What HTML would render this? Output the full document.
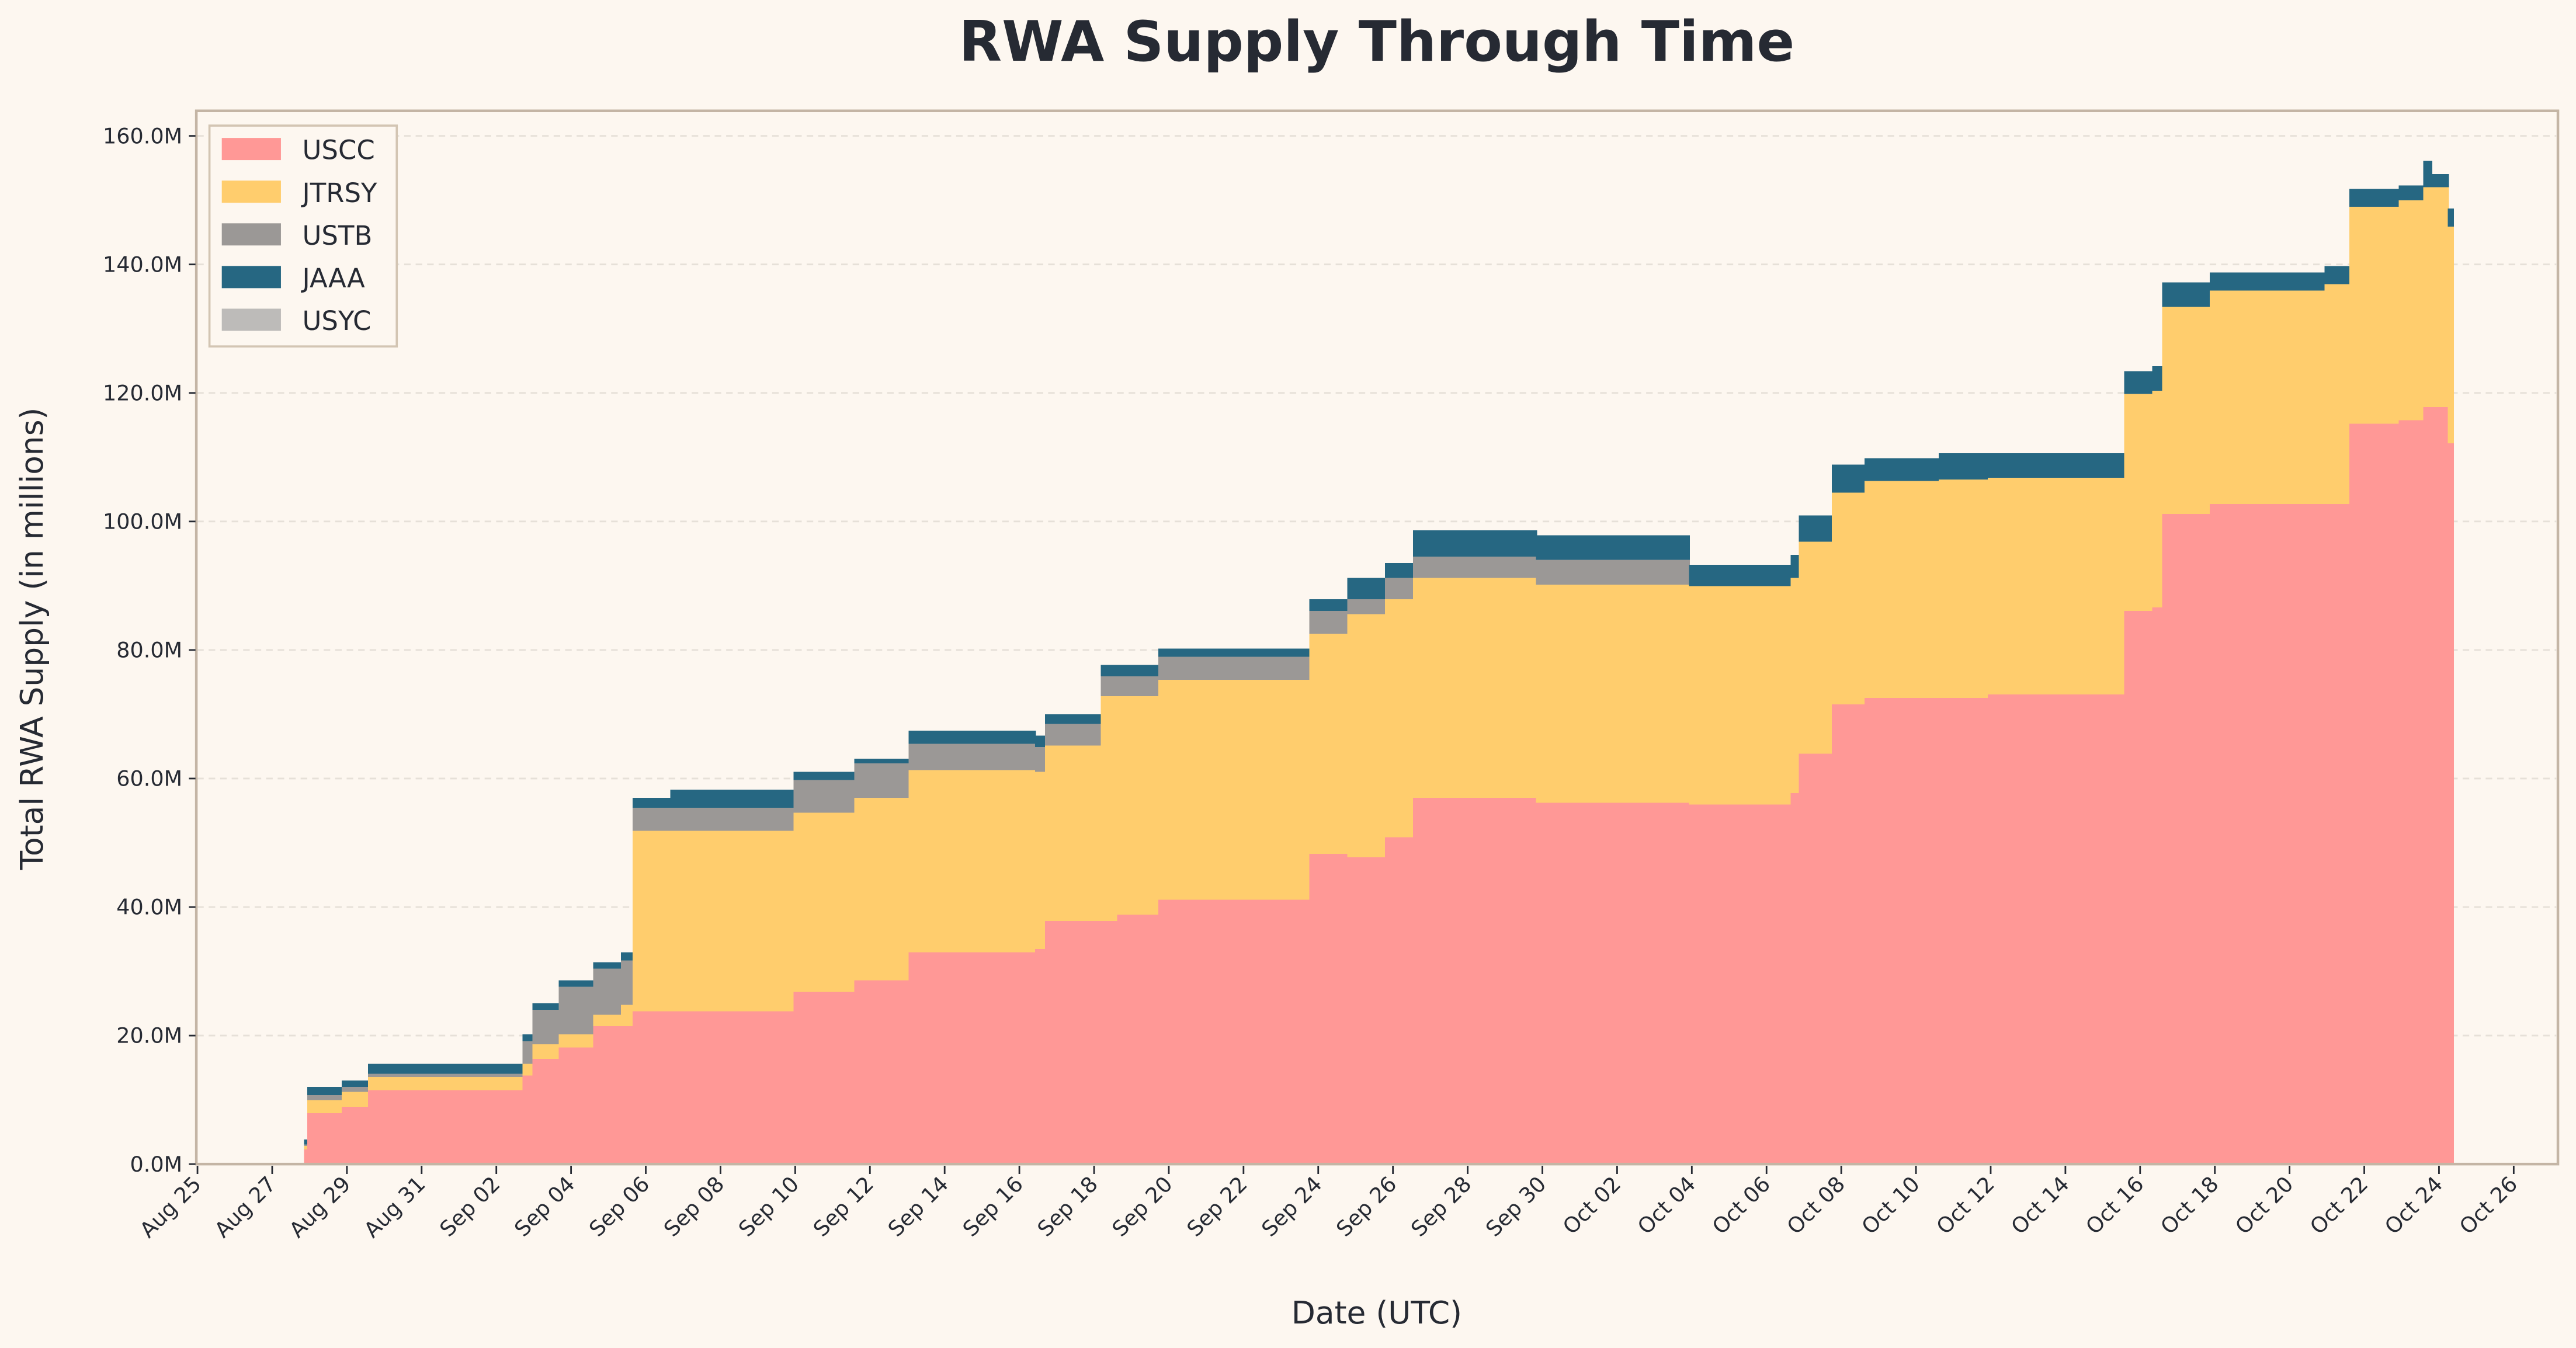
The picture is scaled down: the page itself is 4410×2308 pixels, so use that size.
<!DOCTYPE html>
<html><head><meta charset="utf-8">
<style>
html,body{margin:0;padding:0;background:#fdf7f0;}
svg{display:block;}
text{font-family:"DejaVu Sans","Liberation Sans",sans-serif;fill:#262a33;}
</style></head>
<body>
<svg id="c" width="4410" height="2308" viewBox="0 0 1568 821" preserveAspectRatio="none" xmlns="http://www.w3.org/2000/svg">
<rect width="1568" height="821" fill="#fdf7f0"/>
<g id="grid"></g>
<g id="data" shape-rendering="crispEdges"></g>
<rect x="119.5" y="67.5" width="1437.5" height="641.5" fill="none" stroke="#c4b5a5" stroke-width="1.6"/>
<g id="ticks"></g>
<text x="838" y="37" font-size="34" font-weight="bold" text-anchor="middle">RWA Supply Through Time</text>
<text x="838" y="806" font-size="19" text-anchor="middle">Date (UTC)</text>
<text transform="translate(26,389) rotate(-90)" font-size="19" text-anchor="middle">Total RWA Supply (in millions)</text>
<g>
<rect x="127.5" y="76.5" width="114" height="134.5" fill="#fdf7f0" stroke="#d3c5b3" stroke-width="1.3"/>
<rect x="135" y="84" width="36" height="13.5" fill="#ff9896"/>
<rect x="135" y="110" width="36" height="13.5" fill="#ffcd6d"/>
<rect x="135" y="136" width="36" height="13.5" fill="#9b9896"/>
<rect x="135" y="162" width="36" height="13.5" fill="#266782"/>
<rect x="135" y="188" width="36" height="13.5" fill="#bdbbb9"/>
<text x="184" y="97" font-size="16">USCC</text>
<text x="184" y="123" font-size="16">JTRSY</text>
<text x="184" y="149" font-size="16">USTB</text>
<text x="184" y="175" font-size="16">JAAA</text>
<text x="184" y="201" font-size="16">USYC</text>
</g>
</svg>
<script>
var NS="http://www.w3.org/2000/svg";
function el(t,a,p,txt){var e=document.createElementNS(NS,t);for(var k in a)e.setAttribute(k,a[k]);if(txt!==undefined)e.textContent=txt;p.appendChild(e);return e;}
var grid=document.getElementById('grid'),ticks=document.getElementById('ticks'),data=document.getElementById('data');
for(var i=0;i<=8;i++){var y=709-i*78.28;
 if(i>0)el('line',{x1:120,x2:1556,y1:y,y2:y,stroke:'#e6e0d8','stroke-width':1,'stroke-dasharray':'4,3'},grid);
 el('line',{x1:115,x2:119,y1:y,y2:y,stroke:'#262a33','stroke-width':1},ticks);
 el('text',{x:111,y:y+4.5,'font-size':13,'text-anchor':'end'},ticks,(i*20)+'.0M');
}
var labels=[];['25','27','29','31'].forEach(function(d){labels.push('Aug '+d)});
for(var d=2;d<=30;d+=2)labels.push('Sep '+(d<10?'0':'')+d);
for(var d=2;d<=26;d+=2)labels.push('Oct '+(d<10?'0':'')+d);
labels.forEach(function(l,i){var x=120.2+i*2*22.74;
 el('line',{x1:x,x2:x,y1:710,y2:715,stroke:'#262a33','stroke-width':1},ticks);
 el('text',{transform:'translate('+(x+3)+',722) rotate(-45)','font-size':13,'text-anchor':'end'},ticks,l);
});
var S=[
[185,187,700,698,697,694],
[187,208,678,670,667,662],
[208,224,674,665,662,658],
[224,318,664,656,654,648],
[318,324,655,648,634,630],
[324,340,645,636,615,611],
[340,361,638,630,601,597],
[361,378,625,618,590,586],
[378,385,625,612,585,580],
[385,408,616,506,492,486],
[408,483,616,506,492,481],
[483,520,604,495,475,470],
[520,553,597,486,465,462],
[553,630,580,469,453,445],
[630,636,578,470,455,448],
[636,670,561,454,441,435],
[670,680,561,424,412,405],
[680,705,557,424,412,405],
[705,797,548,414,400,395],
[797,820,520,386,372,365],
[820,843,522,374,365,352],
[843,860,510,365,352,343],
[860,935,486,352,339,323],
[935,1028,489,356,341,326],
[1028,1090,490,357,357,344],
[1090,1095,483,352,352,338],
[1095,1115,459,330,330,314],
[1115,1135,429,300,300,283],
[1135,1180,425,293,293,279],
[1180,1210,425,292,292,276],
[1210,1293,423,291,291,276],
[1293,1310,372,240,240,226],
[1310,1316,370,238,238,223],
[1316,1345,313,187,187,172],
[1345,1415,307,177,177,166],
[1415,1430,307,173,173,162],
[1430,1460,258,126,126,115],
[1460,1475,256,122,122,113],
[1475,1480,248,114,114,98],
[1480,1490,248,114,114,106],
[1490,1493,270,138,138,127]
];
var cols=['#266782','#9b9896','#ffcd6d','#ff9896'];
S.forEach(function(s){
 var ys=[s[5],s[4],s[3],s[2]];
 for(var k=0;k<4;k++){el('rect',{x:s[0],y:ys[k],width:s[1]-s[0]+0.6,height:709-ys[k],fill:cols[k]},data);}
});
</script>
</body></html>
